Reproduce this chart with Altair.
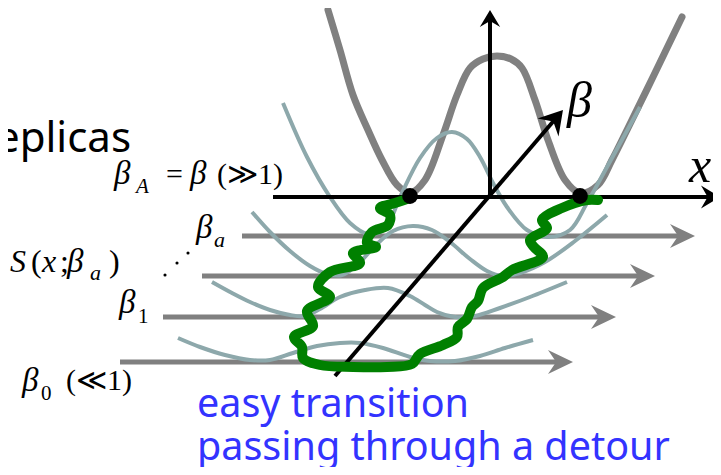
import altair as alt
import pandas as pd

# ---------------- data (pixel space of the 721x475 image) -------------
# thick grey double well at beta_A
grayA_x = [328, 340, 353, 368, 382, 397, 410, 425, 443, 457, 470, 483, 497, 511, 522, 535, 548, 565, 580, 598, 612, 627, 653, 682]
grayA_y = [10, 50, 95, 130, 160, 185, 193, 180, 135, 95, 68, 59, 56, 59, 68, 100, 140, 180, 193, 185, 160, 130, 77, 17]

# teal double wells, one for each lower replica
tealA_x = [283, 307, 330, 350, 368, 385, 400, 420, 437, 452, 467, 480, 493, 507, 527, 548, 570, 587, 607, 640]
tealA_y = [103, 157, 197, 223, 234, 229, 197, 158, 138, 132, 139, 157, 183, 207, 230, 237, 230, 203, 167, 107]
tealB_x = [252, 270, 290, 310, 327, 342, 358, 375, 393, 413, 432, 450, 470, 487, 503, 520, 545, 575, 607]
tealB_y = [212, 232, 251, 266, 274, 275, 264, 246, 231, 226, 230, 242, 259, 271, 276, 273, 262, 241, 215]
teal1_x = [212, 232, 250, 270, 290, 305, 320, 340, 365, 388, 410, 425, 437, 455, 475, 500, 530, 567]
teal1_y = [282, 293, 302, 310, 315, 316, 309, 297, 290, 288, 296, 305, 312, 317, 316, 308, 297, 282]
teal0_x = [178, 200, 225, 250, 270, 293, 317, 340, 360, 383, 410, 430, 455, 480, 505, 533]
teal0_y = [338, 347, 355, 360, 360, 353, 346, 343, 343, 348, 357, 361, 361, 356, 348, 340]

# green transition path
green_x = [410, 395, 380, 390, 388, 372, 367, 376, 353, 360, 330, 318, 330, 307, 313, 294, 302, 303, 320, 353, 387, 412,
           420, 443, 457, 458, 467, 472, 478, 483, 503, 512, 543, 534, 530, 547, 542, 562, 587, 598]
green_y = [198, 203, 208, 215, 225, 232, 243, 247, 253, 263, 272, 287, 297, 311, 326, 337, 347, 358, 365, 367, 367, 364,
           354, 345, 337, 327, 319, 307, 301, 288, 277, 270, 257, 247, 240, 228, 220, 208, 200, 200]

# replica levels (grey arrows)
lvl_start = [242, 202, 163, 120]
lvl_y = [236, 276, 317, 362]
lvl_tip = [695, 655, 616, 573]

# black axes
xaxis = [273, 197, 720]          # start x, y, tip x
yaxis = [490, 198, 10]           # x, start y, tip y
baxis = [335, 376, 563, 110]     # start x, y, tip x, y

dots_x = [410, 580]
dots_y = [196, 196]
ell_x = [165, 177, 188]
ell_y = [275, 263, 253]

# texts: text, x, y, family, size, style, color, align
SERIF = "Liberation Serif"
SANS = "Noto Sans"
texts = [
    ("Replicas", 131, 152, SANS, 42, "normal", "black", "right"),
    ("easy transition", 197, 417, SANS, 39.5, "normal", "#3333FF", "left"),
    ("passing through a detour", 197, 460, SANS, 39.5, "normal", "#3333FF", "left"),
    ("β", 114, 184, SERIF, 33, "italic", "black", "left"),
    ("A", 136, 193, SERIF, 21, "italic", "black", "left"),
    ("=", 166, 184, SERIF, 30, "normal", "black", "left"),
    ("β", 190, 184, SERIF, 33, "italic", "black", "left"),
    ("(≫1)", 217, 184, SERIF, 30, "normal", "black", "left"),
    ("β", 196, 238, SERIF, 33, "italic", "black", "left"),
    ("a", 214, 247, SERIF, 22, "italic", "black", "left"),
    ("−", 0, 268, SERIF, 32, "normal", "black", "right"),
    ("S", 10, 272, SERIF, 32, "italic", "black", "left"),
    ("(", 31, 272, SERIF, 32, "normal", "black", "left"),
    ("x", 42, 272, SERIF, 32, "italic", "black", "left"),
    (";", 60, 272, SERIF, 32, "normal", "black", "left"),
    ("β", 67, 272, SERIF, 33, "italic", "black", "left"),
    ("a", 90, 280, SERIF, 22, "italic", "black", "left"),
    (")", 109, 272, SERIF, 32, "normal", "black", "left"),
    ("β", 119, 313, SERIF, 33, "italic", "black", "left"),
    ("1", 138, 323, SERIF, 21, "normal", "black", "left"),
    ("β", 22, 391, SERIF, 33, "italic", "black", "left"),
    ("0", 41, 400, SERIF, 21, "normal", "black", "left"),
    ("(≪1)", 66, 390, SERIF, 30, "normal", "black", "left"),
    ("x", 689, 182, SERIF, 50, "italic", "black", "left"),
    ("β", 567, 117, SERIF, 50, "italic", "black", "left"),
]

# ---------------- build tables -------------
def curve(name, xs, ys):
    return pd.DataFrame({"x": xs, "y": ys, "i": list(range(len(xs))), "c": name})

# page margin is 8px, so the plot spans image pixels 8..713 and 8..467
X = lambda f="x": alt.X(f"{f}:Q", scale=alt.Scale(domain=[8, 713], zero=False, nice=False), axis=None)
Y = lambda f="y": alt.Y(f"{f}:Q", scale=alt.Scale(domain=[467, 8], zero=False, nice=False), axis=None)

# grey level lines
lv = pd.DataFrame({"x": lvl_start, "x2": [t - 12 for t in lvl_tip], "y": lvl_y,
                   "hx": [t - 12.5 for t in lvl_tip]})
levels = alt.Chart(lv).mark_rule(color="#808080", strokeWidth=5, strokeCap="butt").encode(
    x=X(), x2="x2:Q", y=Y())
stealth = "M1,0L-1,-0.96L-0.35,0L-1,0.96Z"
level_heads = alt.Chart(lv).mark_point(shape=stealth, filled=True, color="#808080", size=625,
                                       opacity=1, strokeWidth=0).encode(x=X("hx"), y=Y())

# black axes
ax_df = pd.DataFrame({"x": [xaxis[0], yaxis[0], baxis[0]],
                      "x2": [xaxis[2] - 9.5, yaxis[0], baxis[2] - 7.5],
                      "y": [xaxis[1], yaxis[1], baxis[1]],
                      "y2": [xaxis[1], yaxis[2] + 8.5, baxis[3] + 8.8]})
axes = alt.Chart(ax_df).mark_rule(color="black", strokeWidth=4, strokeCap="butt").encode(
    x=X(), x2="x2:Q", y=Y(), y2="y2:Q")
head_df = pd.DataFrame({"x": [xaxis[2] - 9.5, yaxis[0], baxis[2] - 7.5],
                        "y": [xaxis[1], yaxis[2] + 8.5, baxis[3] + 8.8],
                        "a": [0, 270, 310.5],
                        "s": [361, 289, 529]})
axis_heads = alt.Chart(head_df).mark_point(shape="M1,0L-1,-1.2L-0.3,0L-1,1.2Z", filled=True, color="black",
                                           opacity=1, strokeWidth=0).encode(
    x=X(), y=Y(), angle=alt.Angle("a:Q", scale=None), size=alt.Size("s:Q", scale=None))

# curves
gray = alt.Chart(curve("A", grayA_x, grayA_y)).mark_line(
    color="#808080", strokeWidth=7, interpolate="catmull-rom", strokeCap="round").encode(
    x=X(), y=Y(), order="i:Q")
teal_df = pd.concat([curve("a", tealA_x, tealA_y), curve("b", tealB_x, tealB_y),
                     curve("1", teal1_x, teal1_y), curve("0", teal0_x, teal0_y)])
teal = alt.Chart(teal_df).mark_line(color="#8DA8AB", strokeWidth=4, interpolate="catmull-rom",
                                    strokeCap="butt").encode(
    x=X(), y=Y(), order="i:Q", detail="c:N")
green = alt.Chart(curve("g", green_x, green_y)).mark_line(
    color="#008000", strokeWidth=10, interpolate="catmull-rom", strokeCap="round", strokeJoin="round").encode(
    x=X(), y=Y(), order="i:Q")

dots = alt.Chart(pd.DataFrame({"x": dots_x, "y": dots_y})).mark_circle(
    color="black", size=250, opacity=1).encode(x=X(), y=Y())
ell = alt.Chart(pd.DataFrame({"x": ell_x, "y": ell_y})).mark_circle(
    color="black", size=10, opacity=1).encode(x=X(), y=Y())

tdf = pd.DataFrame(texts, columns=["t", "x", "y", "font", "size", "style", "color", "align"])
text_layers = []
for (font, style, color, align), g in tdf.groupby(["font", "style", "color", "align"]):
    text_layers.append(
        alt.Chart(g).mark_text(font=font, fontStyle=style, color=color, align=align,
                               baseline="alphabetic").encode(
            x=X(), y=Y(), text="t:N", size=alt.Size("size:Q", scale=None)))

chart = alt.layer(levels, level_heads, gray, teal, axes, axis_heads, green, dots, ell, *text_layers).properties(
    width=705, height=459, padding=0, autosize=alt.AutoSizeParams(type="none"),
    background="white").configure_view(strokeWidth=0)

chart.save("out.html", embed_options={"renderer": "svg", "actions": False})
